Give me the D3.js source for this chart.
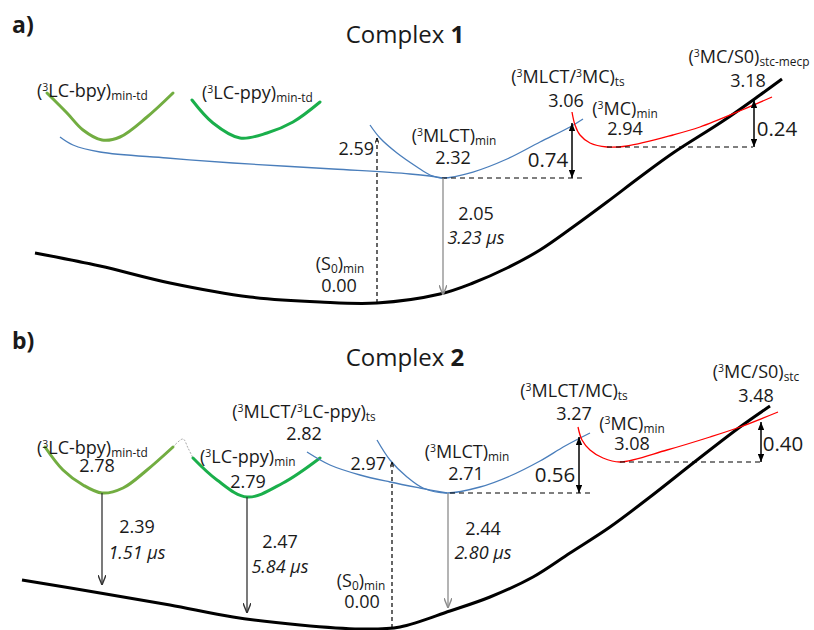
<!DOCTYPE html>
<html>
<head>
<meta charset="utf-8">
<script src="https://cdn.jsdelivr.net/npm/d3@7"></script>
<style>
body{margin:0;background:#fff;}
svg text{font-family:"Open Sans","Noto Sans",sans-serif;fill:#1a1a1a;}
</style>
</head>
<body>
<div id="plot"></div>
<script>
// reaction coordinate q (0..81.4) and schematic energy e (0..30) per panel

// ---- panel a : complex 1 ----
var s0A = [[3.5,5.7],[10,4.4],[17,2.7],[25,1.3],[32,0.8],[37.7,0.7],[44,1.6],[47.3,2.7],[50.7,4.2],[54,6.0],
  [57.3,8.3],[60.7,10.8],[64,13.3],[67.3,15.7],[72.3,18.9],[76,21.5],[78.2,23.1]];
var mlctA = [[37,18.5],[38,17.2],[39.7,15.7],[41.7,14.3],[43,13.5],[44.2,13.2],[47.3,13.8],[50.7,15.1],[54,16.8],[57,18.3],[58.3,19.1]];
var mlctFlatA = [[6,17.3],[7.3,16.5],[10,15.8],[16.7,15.2],[23.3,14.7],[33.3,14.1],[41,13.6],[44.2,13.2]];
var mcA = [[57.2,19.8],[57.5,18.5],[58,17.5],[59,16.7],[60.7,16.3],[62.7,16.4],[67.3,17.5],[70,18.3],[74.2,20],[77.2,21.3]];
var bpyA = [[4.7,21.7],[6.7,19.7],[8.3,18],[10.2,17],[12,17.3],[14.7,19.3],[17.3,21.7]];
var ppyA = [[19.2,21],[21.3,18.7],[24,17.2],[26.7,17.7],[29.3,18.8],[32,20.8]];

var gapArrowsA = [{q:57.2, from:13.2, to:18.7}, {q:75.4, from:16.3, to:21.0}];
var levelDashA = [{e:13.2, from:44.2, to:58.3}, {e:16.3, from:60.7, to:75.3}];
var vertDashA = [{q:37.7, from:0.7, to:17.2}];
var emitGrayA = [{q:44.3, from:13.2, to:1.5}];
var emitDarkA = [];
var humpA = [];

var labelsA = [
  {t:'a)', q:1.2, e:27.7, a:'start', k:'panel'},
  {t:'Complex **1**', q:40.5, e:26.7, a:'middle', k:'title'},
  {t:'(^{3}LC-bpy)_{min-td}', q:3.7, e:21.3, a:'start', k:'state'},
  {t:'(^{3}LC-ppy)_{min-td}', q:20.2, e:21.1, a:'start', k:'state'},
  {t:'2.59', q:37.4, e:15.5, a:'end', k:'state'},
  {t:'(S_{0})_{min}', q:34.0, e:4.0, a:'middle', k:'state'},
  {t:'0.00', q:33.9, e:1.8, a:'middle', k:'state'},
  {t:'(^{3}MLCT)_{min}', q:45.4, e:16.8, a:'middle', k:'state'},
  {t:'2.32', q:45.3, e:14.6, a:'middle', k:'state'},
  {t:'0.74', q:54.8, e:14.3, a:'middle', k:'gap'},
  {t:'2.05', q:47.6, e:9.0, a:'middle', k:'state'},
  {t:'3.23 μs', q:47.6, e:6.6, a:'middle', k:'time'},
  {t:'(^{3}MLCT/^{3}MC)_{ts}', q:56.8, e:22.7, a:'middle', k:'state'},
  {t:'3.06', q:56.6, e:20.3, a:'middle', k:'state'},
  {t:'(^{3}MC)_{min}', q:62.5, e:19.5, a:'middle', k:'state'},
  {t:'2.94', q:62.5, e:17.5, a:'middle', k:'state'},
  {t:'(^{3}MC/S0)_{stc-mecp}', q:74.9, e:24.7, a:'middle', k:'state'},
  {t:'3.18', q:74.8, e:22.3, a:'middle', k:'state'},
  {t:'0.24', q:77.7, e:17.4, a:'middle', k:'gap'}
];

// ---- panel b : complex 2 ----
var s0B = [[2.2,5],[10,3.7],[17,2.5],[23.3,1.3],[30,0.5],[36,0.1],[40,0.3],[45,1.9],[49,3.3],[53.3,5.3],
  [57,7.7],[61,10.3],[65,13.3],[69.7,17],[74,20.3],[77,22.4]];
var mlctB = [[37.7,19],[39,17],[40.7,15.3],[42.3,14.2],[44.7,13.7],[48,14.3],[51,15.4],[54,16.9],[56.5,18.4],[59,19.7]];
var mlctFlatB = [[30.7,17.8],[33,16.5],[36,15.5],[39,14.8],[42,14.2],[44.7,13.7]];
var mcB = [[57.8,20.3],[58.2,19],[59,18],[60.3,17.2],[62,16.8],[66.7,18],[71,19.3],[74,20.3],[77.8,21.8]];
var bpyB = [[4.5,18.3],[6.3,16],[8.3,14.5],[10.2,13.7],[12.3,14.2],[14.7,16],[17.3,18.3]];
var ppyB = [[19.3,17.2],[21.7,15],[24.7,13.3],[28.3,14.7],[32,17.2]];
var humpB = [[17.3,18.3],[18.3,19.1],[18.8,18.2],[19.3,17.2]];

var gapArrowsB = [{q:57.9, from:13.7, to:19.3}, {q:76.1, from:16.8, to:20.8}];
var levelDashB = [{e:13.7, from:45, to:59}, {e:16.8, from:62, to:76.2}];
var vertDashB = [{q:39.2, from:0.2, to:16.8}];
var emitGrayB = [{q:44.8, from:13.7, to:2.2}];
var emitDarkB = [{q:10.2, from:13.7, to:4.5}, {q:24.7, from:13.3, to:1.7}];

var labelsB = [
  {t:'b)', q:1.2, e:28.1, a:'start', k:'panel'},
  {t:'Complex **2**', q:40.5, e:26.4, a:'middle', k:'title'},
  {t:'(^{3}LC-bpy)_{min-td}', q:3.7, e:17.6, a:'start', k:'state'},
  {t:'2.78', q:9.7, e:15.8, a:'middle', k:'state'},
  {t:'(^{3}LC-ppy)_{min}', q:20.0, e:16.7, a:'start', k:'state'},
  {t:'2.79', q:24.8, e:14.2, a:'middle', k:'state'},
  {t:'(^{3}MLCT/^{3}LC-ppy)_{ts}', q:30.4, e:21.2, a:'middle', k:'state'},
  {t:'2.82', q:30.4, e:19.0, a:'middle', k:'state'},
  {t:'2.97', q:38.6, e:16.0, a:'end', k:'state'},
  {t:'2.39', q:13.7, e:9.7, a:'middle', k:'state'},
  {t:'1.51 μs', q:13.7, e:7.1, a:'middle', k:'time'},
  {t:'2.47', q:28.0, e:8.2, a:'middle', k:'state'},
  {t:'5.84 μs', q:28.0, e:5.7, a:'middle', k:'time'},
  {t:'(S_{0})_{min}', q:36.1, e:4.3, a:'middle', k:'state'},
  {t:'0.00', q:36.2, e:2.2, a:'middle', k:'state'},
  {t:'(^{3}MLCT)_{min}', q:46.7, e:17.2, a:'middle', k:'state'},
  {t:'2.71', q:46.6, e:15.0, a:'middle', k:'state'},
  {t:'0.56', q:55.5, e:14.8, a:'middle', k:'gap'},
  {t:'2.44', q:48.3, e:9.5, a:'middle', k:'state'},
  {t:'2.80 μs', q:48.3, e:7.1, a:'middle', k:'time'},
  {t:'(^{3}MLCT/MC)_{ts}', q:57.4, e:23.3, a:'middle', k:'state'},
  {t:'3.27', q:57.4, e:21.0, a:'middle', k:'state'},
  {t:'(^{3}MC)_{min}', q:63.2, e:20.0, a:'middle', k:'state'},
  {t:'3.08', q:63.2, e:18.0, a:'middle', k:'state'},
  {t:'(^{3}MC/S0)_{stc}', q:75.6, e:25.2, a:'middle', k:'state'},
  {t:'3.48', q:75.6, e:22.8, a:'middle', k:'state'},
  {t:'0.40', q:78.3, e:17.9, a:'middle', k:'gap'}
];

//Set up the drawing environment here
var width = 814, height = 630;
var svg = d3.select('#plot').append('svg')
  .attr('width', width).attr('height', height);

var x = d3.scaleLinear().domain([0, 81.4]).range([0, width]);
var y = d3.scaleLinear().domain([0, 30]).range([300, 0]);

var line = d3.line()
  .x(function(d){return x(d[0]);})
  .y(function(d){return y(d[1]);})
  .curve(d3.curveCatmullRom.alpha(0.5));

var defs = svg.append('defs');
function addMarker(id, size, path, fill, stroke){
  defs.append('marker')
    .attr('id', id)
    .attr('viewBox', '0 0 10 8')
    .attr('refX', 10).attr('refY', 4)
    .attr('markerUnits', 'userSpaceOnUse')
    .attr('markerWidth', size).attr('markerHeight', size*0.8)
    .attr('orient', 'auto-start-reverse')
    .append('path')
    .attr('d', path)
    .attr('fill', fill)
    .attr('stroke', stroke)
    .attr('stroke-width', stroke=='none' ? 0 : 1.4);
}
addMarker('headFill', 8, 'M0,0L10,4L0,8Z', '#000', 'none');
addMarker('headGray', 10, 'M0,0L10,4L0,8', 'none', '#8c8c8c');
addMarker('headDark', 10, 'M0,0L10,4L0,8', 'none', '#333');
addMarker('headTiny', 6, 'M0,0L10,4L0,8', 'none', '#000');

var sizes = {state:18, time:18, gap:20.5, title:24, panel:23};

function richText(sel, str, size){
  var re = /\^\{([^}]*)\}|_\{([^}]*)\}|\*\*([^*]+)\*\*|([^\^_*]+)/g, m, shift = 0;
  while((m = re.exec(str))){
    var ts = sel.append('tspan'), target = 0, fs = size;
    if(m[1] !== undefined){ target = -0.34*size; fs = 0.58*size; ts.text(m[1]); }
    else if(m[2] !== undefined){ target = 0.18*size; fs = 0.66*size; ts.text(m[2]); }
    else if(m[3] !== undefined){ ts.text(m[3]).style('font-weight', 'bold'); }
    else { ts.text(m[4]); }
    ts.attr('font-size', fs).attr('dy', target - shift);
    shift = target;
  }
}

function drawPanel(top, p){
  var g = svg.append('g').attr('transform', 'translate(0,' + top + ')');

  g.append('path').attr('d', line(p.s0)).attr('fill', 'none')
    .attr('stroke', '#000').attr('stroke-width', 3);

  if(p.hump.length){
    g.append('path').attr('d', line(p.hump)).attr('fill', 'none')
      .attr('stroke', '#aaa').attr('stroke-width', 1).attr('stroke-dasharray', '2,1.5');
  }
  g.append('path').attr('d', line(p.bpy)).attr('fill', 'none')
    .attr('stroke', '#72ad41').attr('stroke-width', 3).attr('stroke-linecap', 'round');
  g.append('path').attr('d', line(p.ppy)).attr('fill', 'none')
    .attr('stroke', '#1aaf4b').attr('stroke-width', 3).attr('stroke-linecap', 'round');

  [p.mlctFlat, p.mlct].forEach(function(c){
    g.append('path').attr('d', line(c)).attr('fill', 'none')
      .attr('stroke', '#4a7ebb').attr('stroke-width', 1.3);
  });
  g.append('path').attr('d', line(p.mc)).attr('fill', 'none')
    .attr('stroke', '#ff0000').attr('stroke-width', 1.3);

  // dashed level lines
  g.selectAll('.lvl').data(p.levels).enter().append('line')
    .attr('x1', function(d){return x(d.from);}).attr('x2', function(d){return x(d.to);})
    .attr('y1', function(d){return y(d.e);}).attr('y2', function(d){return y(d.e);})
    .attr('stroke', '#000').attr('stroke-width', 1.2).attr('stroke-dasharray', '5,4');

  // vertical absorption (dashed)
  g.selectAll('.vd').data(p.vert).enter().append('line')
    .attr('x1', function(d){return x(d.q);}).attr('x2', function(d){return x(d.q);})
    .attr('y1', function(d){return y(d.from);}).attr('y2', function(d){return y(d.to);})
    .attr('stroke', '#000').attr('stroke-width', 1.2).attr('stroke-dasharray', '4,3')
    .attr('marker-end', 'url(#headTiny)');

  // emission arrows
  g.selectAll('.eg').data(p.emitGray).enter().append('line')
    .attr('x1', function(d){return x(d.q);}).attr('x2', function(d){return x(d.q);})
    .attr('y1', function(d){return y(d.from);}).attr('y2', function(d){return y(d.to);})
    .attr('stroke', '#8c8c8c').attr('stroke-width', 1.3)
    .attr('marker-end', 'url(#headGray)');
  g.selectAll('.ed').data(p.emitDark).enter().append('line')
    .attr('x1', function(d){return x(d.q);}).attr('x2', function(d){return x(d.q);})
    .attr('y1', function(d){return y(d.from);}).attr('y2', function(d){return y(d.to);})
    .attr('stroke', '#333').attr('stroke-width', 1.3)
    .attr('marker-end', 'url(#headDark)');

  // barrier double arrows
  g.selectAll('.ga').data(p.gaps).enter().append('line')
    .attr('x1', function(d){return x(d.q);}).attr('x2', function(d){return x(d.q);})
    .attr('y1', function(d){return y(d.from);}).attr('y2', function(d){return y(d.to);})
    .attr('stroke', '#000').attr('stroke-width', 1.5)
    .attr('marker-start', 'url(#headFill)').attr('marker-end', 'url(#headFill)');

  p.labels.forEach(function(d){
    var t = g.append('text')
      .attr('x', x(d.q)).attr('y', y(d.e))
      .attr('text-anchor', d.a)
      .attr('font-size', sizes[d.k]);
    if(d.k == 'time') t.style('font-style', 'italic');
    if(d.k == 'panel') t.style('font-weight', 'bold');
    richText(t, d.t, sizes[d.k]);
  });
}

drawPanel(10, {s0:s0A, mlct:mlctA, mlctFlat:mlctFlatA, mc:mcA, bpy:bpyA, ppy:ppyA, hump:humpA,
  gaps:gapArrowsA, levels:levelDashA, vert:vertDashA, emitGray:emitGrayA, emitDark:emitDarkA, labels:labelsA});
drawPanel(330, {s0:s0B, mlct:mlctB, mlctFlat:mlctFlatB, mc:mcB, bpy:bpyB, ppy:ppyB, hump:humpB,
  gaps:gapArrowsB, levels:levelDashB, vert:vertDashB, emitGray:emitGrayB, emitDark:emitDarkB, labels:labelsB});
</script>
</body>
</html>
